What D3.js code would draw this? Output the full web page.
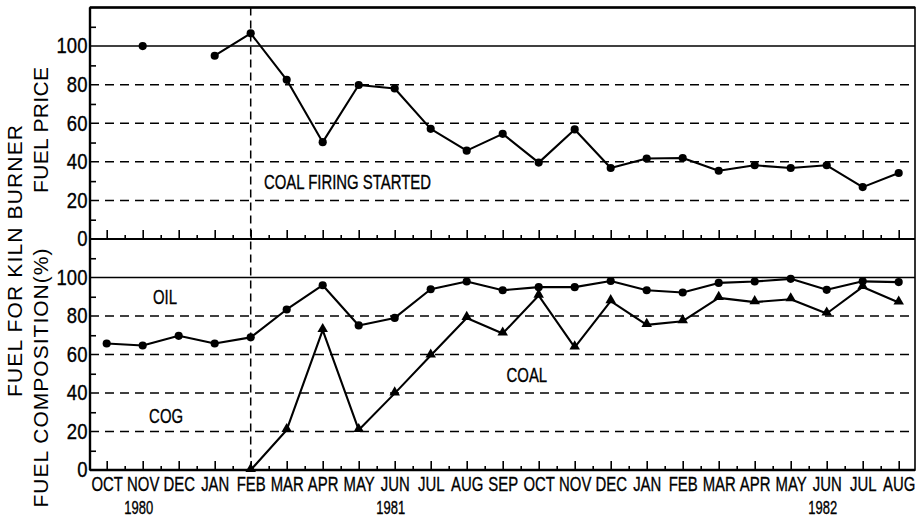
<!DOCTYPE html>
<html>
<head>
<meta charset="utf-8">
<script src="https://cdn.jsdelivr.net/npm/d3@7"></script>
<style>
  html, body { margin: 0; padding: 0; background: #fff; }
  svg { display: block; font-family: "Liberation Sans", Arial, Helvetica, sans-serif; }
  .grid { stroke: #000; stroke-width: 1.5; stroke-dasharray: 9 6; }
  .tick line { stroke: #000; stroke-width: 1.6; }
  .cond { stroke: #000; stroke-width: 0.35; }
</style>
</head>
<body>
<div id="chart"></div>
<script>
// Kiln burner fuel: price (top) and composition (bottom), Oct 1980 - Aug 1982

const months = ['OCT', 'NOV', 'DEC', 'JAN', 'FEB', 'MAR', 'APR', 'MAY', 'JUN', 'JUL', 'AUG', 'SEP',
  'OCT', 'NOV', 'DEC', 'JAN', 'FEB', 'MAR', 'APR', 'MAY', 'JUN', 'JUL', 'AUG'];
const years = [{ label: '1980', at: 1 }, { label: '1981', at: 8 }, { label: '1982', at: 20 }];

// fuel price index (null = no reading)
const fuelPrice = [null, 100, null, 95, 106.6, 82.5, 50.2, 79.8, 78, 57.1, 45.8, 54.5,
  39.6, 56.8, 36.8, 41.7, 42, 35.4, 38.2, 36.8, 38.2, 26.9, 34.2];
// composition %: upper boundary (coal + COG, circles) and coal share (triangles)
const coalPlusCog = [65.7, 64.7, 69.7, 65.7, 68.9, 83.4, 96, 75.1, 79, 93.9, 97.9, 93.4,
  95, 95, 98.2, 93.4, 92.2, 97.2, 97.9, 99.3, 93.6, 98, 97.6];
const coalShare = [null, null, null, null, 0, 20.8, 72.7, 20.8, 39.8, 59.5, 79, 70.9,
  90.6, 63.7, 87.7, 75.4, 77.3, 89.4, 87.2, 88.7, 81.3, 95.1, 87];

const yTicks = [0, 20, 40, 60, 80, 100];
const yMinor = [10, 30, 50, 70, 90, 110];
const coalStartIdx = 4;

const width = 918, height = 519;
const pLeft = 90, pRight = 915, pTop = 7.5, pMid = 239, pBottom = 470;

const svg = d3.select('#chart').append('svg')
  .attr('width', width).attr('height', height)
  .attr('viewBox', `0 0 ${width} ${height}`);

const x = d3.scaleLinear().domain([0, months.length - 1]).range([106.7, 898.7]);
const yTop = d3.scaleLinear().domain([0, 120]).range([pMid, pTop]);
const yBot = d3.scaleLinear().domain([0, 120]).range([pBottom, pMid]);

// condensed look: squeeze glyphs horizontally
const SQ = 0.71;

function panel(y) {
  const g = svg.append('g');
  // grid
  g.selectAll('line.grid')
    .data([20, 40, 60, 80])
    .join('line')
    .attr('class', 'grid')
    .attr('x1', pLeft).attr('x2', pRight)
    .attr('y1', (d) => y(d)).attr('y2', (d) => y(d));
  g.append('line')
    .attr('x1', pLeft).attr('x2', pRight)
    .attr('y1', y(100)).attr('y2', y(100))
    .attr('stroke', '#000').attr('stroke-width', 1.5);

  // left labels
  const ya = g.append('g').attr('transform', `translate(${pLeft},0)`)
    .call(d3.axisLeft(y).tickValues(yTicks).tickSize(0).tickPadding(3));
  ya.select('.domain').remove();
  ya.selectAll('text')
    .attr('class', 'cond')
    .attr('font-size', 21.5).attr('font-family', null)
    .attr('fill', '#000')
    .attr('transform', 'scale(0.86,1)');
  // inward minor ticks
  const ym = g.append('g').attr('transform', `translate(${pLeft},0)`)
    .call(d3.axisRight(y).tickValues(yMinor).tickSize(6).tickFormat(''));
  ym.select('.domain').remove();

  // month ticks along the bottom of the panel
  const xa = g.append('g').attr('transform', `translate(0,${y(0)})`)
    .call(d3.axisBottom(x).tickValues(d3.range(months.length)).tickSize(-9).tickFormat(''));
  xa.select('.domain').remove();
  const xm = g.append('g').attr('transform', `translate(0,${y(0)})`)
    .call(d3.axisBottom(x).tickValues(d3.range(months.length - 1).map((i) => i + 0.5)).tickSize(-4).tickFormat(''));
  xm.select('.domain').remove();
  return g;
}

panel(yTop);
panel(yBot);

// month labels
const ml = svg.append('g').attr('transform', `translate(0,${pBottom})`)
  .call(d3.axisBottom(x).tickValues(d3.range(months.length)).tickSize(0).tickPadding(6)
    .tickFormat((i) => months[i]));
ml.select('.domain').remove();
ml.selectAll('text')
  .attr('class', 'cond')
  .attr('font-size', 21).attr('font-family', null).attr('fill', '#000')
  .attr('transform', `scale(${SQ},1)`);

svg.append('g').selectAll('text')
  .data(years)
  .join('text')
  .attr('class', 'cond')
  .attr('transform', (d) => `translate(${x(d.at) - 4},513.5) scale(0.72,1)`)
  .attr('text-anchor', 'middle')
  .attr('font-size', 18)
  .text((d) => d.label);

// frame
svg.append('rect')
  .attr('x', pLeft).attr('y', pTop)
  .attr('width', pRight - pLeft).attr('height', pBottom - pTop)
  .attr('fill', 'none').attr('stroke', '#000').attr('stroke-width', 1.6);
svg.append('line').attr('x1', pLeft).attr('x2', pRight).attr('y1', pTop).attr('y2', pTop)
  .attr('stroke', '#000').attr('stroke-width', 2.6);
svg.append('line').attr('x1', pLeft).attr('x2', pRight).attr('y1', pMid).attr('y2', pMid)
  .attr('stroke', '#000').attr('stroke-width', 2.2);
svg.append('line').attr('x1', pLeft).attr('x2', pRight).attr('y1', pBottom).attr('y2', pBottom)
  .attr('stroke', '#000').attr('stroke-width', 2.4);
svg.append('line').attr('x1', pLeft).attr('x2', pLeft).attr('y1', pTop).attr('y2', pBottom)
  .attr('stroke', '#000').attr('stroke-width', 2.4);

// coal firing start marker
svg.append('line')
  .attr('x1', x(coalStartIdx)).attr('x2', x(coalStartIdx))
  .attr('y1', pTop).attr('y2', pBottom)
  .attr('stroke', '#000').attr('stroke-width', 1.5).attr('stroke-dasharray', '8 5');

// series
function series(values, y, shape) {
  const pts = values.map((v, i) => ({ i, v })).filter((d) => d.v != null);
  const line = d3.line()
    .defined((d) => d.v != null)
    .x((d) => x(d.i)).y((d) => y(d.v));
  svg.append('path')
    .datum(values.map((v, i) => ({ i, v })))
    .attr('d', line)
    .attr('fill', 'none').attr('stroke', '#000').attr('stroke-width', 2.1)
    .attr('stroke-linejoin', 'round');
  const sym = d3.symbol().type(shape === 'tri' ? d3.symbolTriangle : d3.symbolCircle)
    .size(shape === 'tri' ? 48 : 52);
  svg.append('g').selectAll('path')
    .data(pts)
    .join('path')
    .attr('transform', (d) => `translate(${x(d.i)},${y(d.v) + (shape === 'tri' ? -1 : 0)})`)
    .attr('d', sym)
    .attr('fill', '#000');
}

series(fuelPrice, yTop, 'dot');
series(coalPlusCog, yBot, 'dot');
series(coalShare, yBot, 'tri');

// in-chart labels
function label(txt, xi, yv, y, anchor) {
  svg.append('text')
    .attr('class', 'cond')
    .attr('transform', `translate(${x(xi)},${y(yv)}) scale(${SQ},1)`)
    .attr('text-anchor', anchor)
    .attr('font-size', 21)
    .text(txt);
}
label('COAL FIRING STARTED', 4.37, 25.7, yTop, 'start');
label('OIL', 1.62, 86.2, yBot, 'middle');
label('COG', 1.65, 24.4, yBot, 'middle');
label('COAL', 11.67, 45.5, yBot, 'middle');

// axis titles
function vtitle(txt, cx, cy, len) {
  svg.append('text')
    .attr('transform', `translate(${cx},${cy}) rotate(-90)`)
    .attr('text-anchor', 'middle')
    .attr('font-size', 21)
    .attr('textLength', len).attr('lengthAdjust', 'spacing')
    .text(txt);
}
vtitle('FUEL FOR KILN BURNER', 21.5, 261, 272);
vtitle('FUEL PRICE', 47.5, 130, 126);
vtitle('FUEL COMPOSITION(%)', 47.5, 378, 259);
</script>
</body>
</html>
